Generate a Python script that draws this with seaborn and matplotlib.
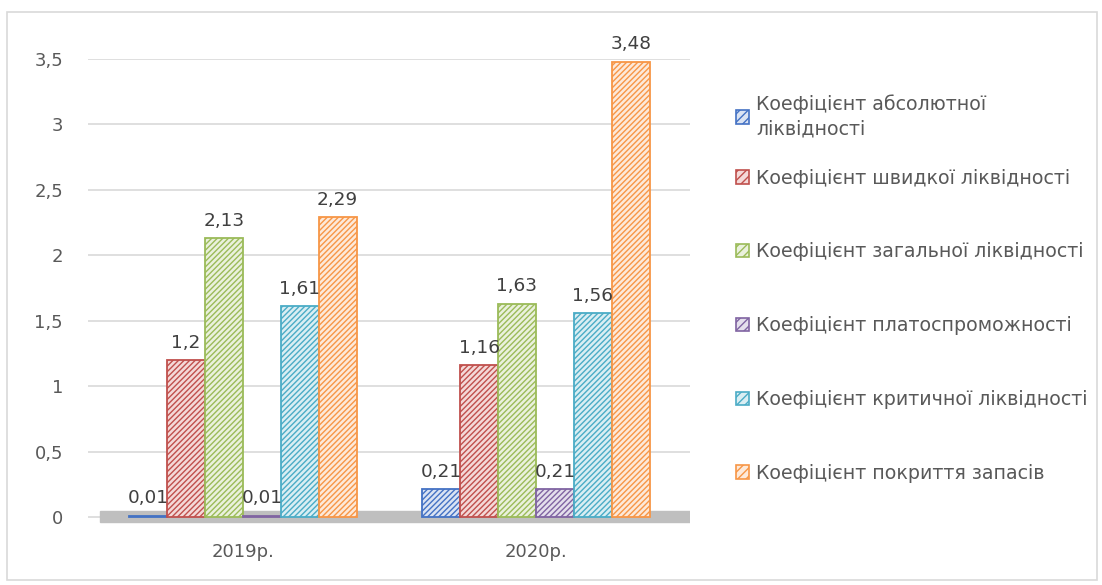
import matplotlib
matplotlib.use("Agg")
import matplotlib.pyplot as plt
from matplotlib.patches import Patch, Rectangle
from matplotlib.ticker import FuncFormatter
import pandas as pd
import seaborn as sns

years = ["2019р.", "2020р."]
indicators = [
    "Коефіцієнт абсолютної\nліквідності",
    "Коефіцієнт швидкої ліквідності",
    "Коефіцієнт загальної ліквідності",
    "Коефіцієнт платоспроможності",
    "Коефіцієнт критичної ліквідності",
    "Коефіцієнт покриття запасів",
]
values_2019 = [0.01, 1.2, 2.13, 0.01, 1.61, 2.29]
values_2020 = [0.21, 1.16, 1.63, 0.21, 1.56, 3.48]

line_colors = ["#4472C4", "#C0504D", "#9BBB59", "#8064A2", "#4BACC6", "#F79646"]
fill_colors = ["#DAE3F3", "#F4D9D8", "#EAF1DD", "#E4DFEC", "#DAEEF3", "#FDE9D9"]

df = pd.DataFrame({
    "year": [y for y in years for _ in indicators],
    "indicator": indicators * len(years),
    "value": values_2019 + values_2020,
})

sns.set_theme(style="white")
plt.rcParams["font.family"] = ["DejaVu Sans"]
plt.rcParams["hatch.linewidth"] = 1.0
text_color = "#595959"

W, H = 1102, 585
fig = plt.figure(figsize=(W / 100, H / 100), dpi=100)
ax = fig.add_axes([88 / W, 1 - 523.5 / H, 602 / W, (523.5 - 59) / H])

sns.barplot(data=df, x="year", y="value", hue="indicator", hue_order=indicators,
            order=years, palette=line_colors, width=0.776, ax=ax, legend=False,
            saturation=1, zorder=3)

for i, cont in enumerate(ax.containers):
    for bar in cont:
        bar.set_facecolor(fill_colors[i])
        bar.set_edgecolor(line_colors[i])
        bar.set_linewidth(1.3)
        bar.set_hatch("//////")
    labels = [f"{v:g}".replace(".", ",") for v in cont.datavalues]
    ax.bar_label(cont, labels=labels, padding=6, fontsize=13.3, color="#404040")

# floor of the plot
ax.axhspan(-0.035, 0.045, xmin=0.02, color="#BFBFBF", zorder=2)

ax.set_ylim(-0.05, 3.5)
ax.set_xlim(-0.529, 1.526)
ax.set_yticks([0, 0.5, 1, 1.5, 2, 2.5, 3, 3.5])
ax.yaxis.set_major_formatter(FuncFormatter(lambda v, p: f"{v:g}".replace(".", ",")))
ax.grid(axis="y", color="#D9D9D9", linewidth=1.2, zorder=0)
ax.grid(axis="x", visible=False)
for s in ax.spines.values():
    s.set_visible(False)
ax.tick_params(axis="y", length=0, pad=18, labelsize=13, labelcolor=text_color)
ax.tick_params(axis="x", length=0, pad=14, labelsize=13, labelcolor=text_color)
ax.set_xlabel("")
ax.set_ylabel("")

handles = [Patch(facecolor=fill_colors[i], edgecolor=line_colors[i], hatch="////",
                 linewidth=1.2) for i in range(len(indicators))]
legend_kw = dict(loc="upper left", frameon=False, fontsize=13.7, labelcolor=text_color,
                 handlelength=0.7, handleheight=0.7, handletextpad=0.35,
                 borderaxespad=0, borderpad=0)

# first (two-line) entry, then the remaining entries evenly spaced
leg_top = fig.legend(handles[:1], indicators[:1], bbox_to_anchor=(736 / W, 1 - 94 / H),
                     **legend_kw)
for t in leg_top.get_texts():
    t.set_linespacing(1.37)
fig.legend(handles[1:], indicators[1:], bbox_to_anchor=(736 / W, 1 - 168.5 / H),
           labelspacing=2.88, **legend_kw)

fig.patches.append(Rectangle((7 / W, 5 / H), 1090 / W, 568 / H,
                             transform=fig.transFigure, fill=False,
                             edgecolor="#D9D9D9", linewidth=1.2))

fig.savefig("out.png", dpi=100)
